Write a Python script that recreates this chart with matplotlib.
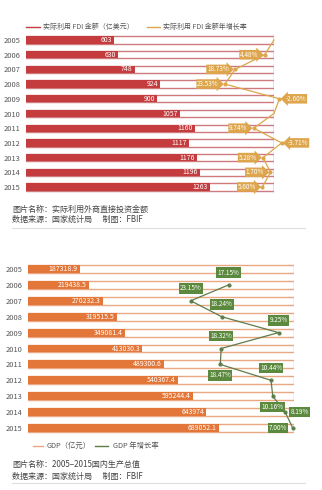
import numpy as np
import matplotlib
matplotlib.use("Agg")
import matplotlib.pyplot as plt
from matplotlib.lines import Line2D

plt.rcParams['font.family'] = ['Noto Sans CJK SC', 'DejaVu Sans']

# ---------------- data ----------------
years = ['2005', '2006', '2007', '2008', '2009', '2010', '2011', '2012', '2013', '2014', '2015']

fdi = [603, 630, 748, 924, 900, 1057, 1160, 1117, 1176, 1196, 1263]
fdi_growth = [0, 4.48, 18.73, 23.53, -2.60, 0, 9.74, -3.71, 5.28, 1.70, 5.60]
fdi_growth_labels = ['', '4.48%', '18.73%', '23.53%', '-2.60%', '', '9.74%', '-3.71%', '5.28%', '1.70%', '5.60%']

gdp = [187318.9, 219438.5, 270232.3, 319515.5, 349081.4, 413030.3, 489300.6, 540367.4, 595244.4, 643974, 689052.1]
gdp_labels = ['187318.9', '219438.5', '270232.3', '319515.5', '349081.4', '413030.3', '489300.6', '540367.4', '595244.4', '643974', '689052.1']
gdp_growth = [np.nan, 17.15, 23.15, 18.24, 9.25, 18.32, 18.47, 10.44, 10.16, 8.19, 7.00]
gdp_growth_labels = ['', '17.15%', '23.15%', '18.24%', '9.25%', '18.32%', '18.47%', '10.44%', '10.16%', '8.19%', '7.00%']
# label placement: 'u' above, 'd' below, 'l' left, 'r' right
gdp_label_pos = ['', 'u', 'u', 'u', 'u', 'u', 'd', 'u', 'd', 'r', 'l']

W, H = 322, 490
fig = plt.figure(figsize=(W / 100, H / 100), dpi=100)
fig.patch.set_facecolor('white')


def px_axes(left, top, width, height, **kw):
    return fig.add_axes([left / W, 1 - (top + height) / H, width / W, height / H], **kw)


RED = '#C43C3E'
RED_EDGE = '#CF7A7C'
GOLD = '#DDA64C'
ORANGE = '#E3773A'
ORANGE_EDGE = '#E9A883'
GREEN = '#5B8A3E'
GREEN_LINE = '#5E7D48'
GRAY = '#555555'

ypos = np.arange(len(years))

# ---------------- top chart ----------------
ax1 = px_axes(26, 32.65, 248, 161.7)
ax1.barh(ypos, [1704] * len(years), height=0.5, color='white', edgecolor=RED_EDGE, linewidth=1.0)
ax1.barh(ypos, fdi, height=0.5, color=RED, edgecolor='none')
for i, v in enumerate(fdi):
    ax1.annotate(str(v), xy=(v, i), xytext=(-1.5, 0), textcoords='offset points',
                 ha='right', va='center', color='white', fontsize=5)
ax1.set_xlim(0, 1704)
ax1.set_ylim(10.5, -0.5)
ax1.set_yticks(ypos)
ax1.set_yticklabels(years, fontsize=5.4, color=GRAY)
ax1.tick_params(axis='y', length=0, pad=4)
ax1.set_xticks([])
for s in ax1.spines.values():
    s.set_visible(False)

ax1b = ax1.twiny()
ax1b.set_xlim(119.2, 0)
ax1b.axvline(0, color=GOLD, lw=0.9)
ax1b.plot(fdi_growth, ypos, color=GOLD, lw=0.9, clip_on=False)
for i, (r, lab) in enumerate(zip(fdi_growth, fdi_growth_labels)):
    if not lab:
        continue
    ax1b.plot([r], [i], 'o', color=GOLD, ms=2, clip_on=False)
    if r >= 0:
        ax1b.annotate(lab, xy=(r, i), xytext=(-4.5, 0), textcoords='offset points',
                      ha='right', va='center', color='white', fontsize=4.6,
                      annotation_clip=False,
                      bbox=dict(boxstyle='rarrow,pad=0.12', fc=GOLD, ec='none'))
    else:
        ax1b.annotate(lab, xy=(r, i), xytext=(4.5, 0), textcoords='offset points',
                      ha='left', va='center', color='white', fontsize=4.6,
                      annotation_clip=False,
                      bbox=dict(boxstyle='larrow,pad=0.12', fc=GOLD, ec='none'))
ax1b.set_xticks([])
ax1b.set_ylim(10.5, -0.5)
for s in ax1b.spines.values():
    s.set_visible(False)

# ---------------- bottom chart ----------------
ax2 = px_axes(28, 261.05, 266, 174.9)
ax2.barh(ypos, [960000] * len(years), height=0.5, color='white', edgecolor=ORANGE_EDGE, linewidth=1.0)
ax2.barh(ypos, gdp, height=0.5, color=ORANGE, edgecolor='none')
for i, (v, lab) in enumerate(zip(gdp, gdp_labels)):
    ax2.annotate(lab, xy=(v, i), xytext=(-1.5, 0), textcoords='offset points',
                 ha='right', va='center', color='white', fontsize=5)
ax2.set_xlim(0, 960000)
ax2.set_ylim(10.5, -0.5)
ax2.set_yticks(ypos)
ax2.set_yticklabels(years, fontsize=5.4, color=GRAY)
ax2.tick_params(axis='y', length=0, pad=4)
ax2.set_xticks([])
for s in ax2.spines.values():
    s.set_visible(False)

ax2b = ax2.twiny()
ax2b.set_xlim(48.9, 6.8)
ax2b.plot(gdp_growth, ypos, color=GREEN_LINE, lw=0.9, marker='o', ms=2, clip_on=False)
offsets = {'u': (0, 6, 'center', 'bottom'), 'd': (0, -5, 'center', 'top'),
           'l': (-4, 0, 'right', 'center'), 'r': (4, 0, 'left', 'center')}
for i, (r, lab, pos) in enumerate(zip(gdp_growth, gdp_growth_labels, gdp_label_pos)):
    if not lab:
        continue
    dx, dy, ha, va = offsets[pos]
    ax2b.annotate(lab, xy=(r, i), xytext=(dx, dy), textcoords='offset points',
                  ha=ha, va=va, color='white', fontsize=4.6, annotation_clip=False,
                  bbox=dict(boxstyle='square,pad=0.2', fc=GREEN, ec='none'))
ax2b.set_xticks([])
ax2b.set_ylim(10.5, -0.5)
for s in ax2b.spines.values():
    s.set_visible(False)

# ---------------- overlay: legends & captions ----------------
ov = fig.add_axes([0, 0, 1, 1], zorder=-1)
ov.set_xlim(0, W)
ov.set_ylim(H, 0)
ov.axis('off')

# top legend
ov.add_line(Line2D([26, 40], [27, 27], color=RED, lw=1))
ov.text(43, 27, '实际利用 FDI 金额（亿美元）', fontsize=5, color=GRAY, va='center')
ov.add_line(Line2D([147, 160], [27, 27], color=GOLD, lw=1))
ov.text(163, 27, '实际利用 FDI 金额年增长率', fontsize=5, color=GRAY, va='center')

# top caption
ov.text(12, 209, '图片名称：实际利用外商直接投资金额', fontsize=5.8, color='#444444', va='center')
ov.text(12, 219, '数据来源：国家统计局      制图：FBIF', fontsize=5.8, color='#444444', va='center')
ov.add_line(Line2D([12, 305], [228, 228], color='#DDDDDD', lw=0.8))

# bottom legend
ov.add_line(Line2D([33, 43], [446, 446], color=ORANGE_EDGE, lw=1))
ov.text(47, 446, 'GDP（亿元）', fontsize=5.3, color=GRAY, va='center')
ov.add_line(Line2D([95, 108], [446, 446], color=GREEN_LINE, lw=1))
ov.text(113, 446, 'GDP 年增长率', fontsize=5.3, color=GRAY, va='center')

# bottom caption
ov.text(12, 464, '图片名称：2005–2015国内生产总值', fontsize=5.8, color='#444444', va='center')
ov.text(12, 476, '数据来源：国家统计局      制图：FBIF', fontsize=5.8, color='#444444', va='center')
ov.add_line(Line2D([12, 305], [483, 483], color='#DDDDDD', lw=0.8))

fig.savefig('out.png', dpi=100, facecolor='white')
